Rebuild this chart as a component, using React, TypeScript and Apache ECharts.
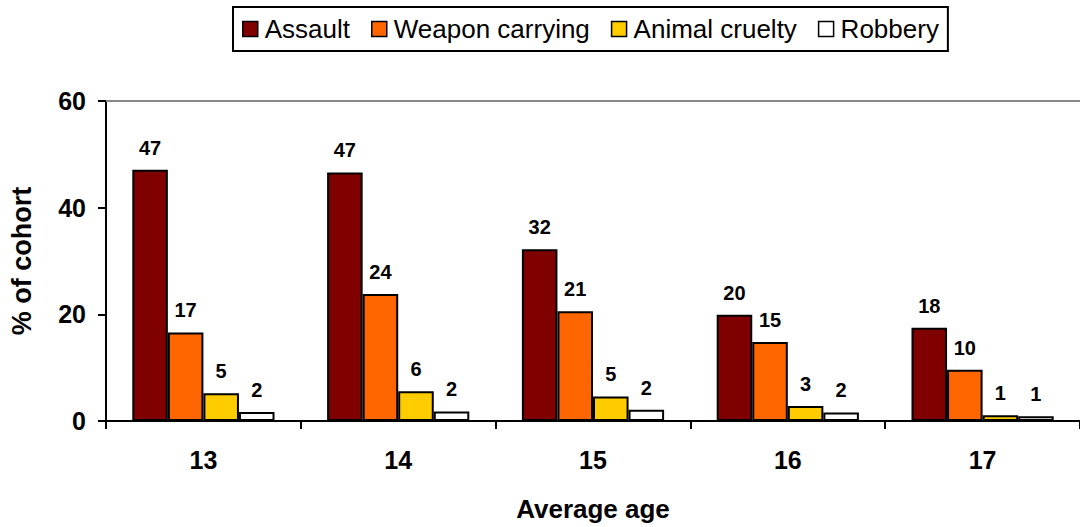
import React, { useEffect, useRef } from "react";
import * as echarts from "echarts";

const categories = ["13", "14", "15", "16", "17"];
const seriesNames = ["Assault", "Weapon carrying", "Animal cruelty", "Robbery"];
const assault = [47.1, 46.6, 32.2, 19.9, 17.5];
const weaponCarrying = [16.6, 23.8, 20.6, 14.8, 9.6];
const animalCruelty = [5.2, 5.6, 4.6, 2.8, 1.1];
const robbery = [1.7, 1.8, 2.1, 1.6, 0.9];
const colors = ["#800000", "#FF6600", "#FFCC00", "#FFFFFF"];
const yTicks = { min: 0, max: 60, interval: 20 };

const FONT = "'Liberation Sans', Arial, Helvetica, sans-serif";

export default function App() {
  const ref = useRef<HTMLDivElement>(null);
  useEffect(() => {
    document.body.style.margin = "0";
    if (!ref.current) return;
    const chart = echarts.init(ref.current, null, { renderer: "svg" });
    const values = [assault, weaponCarrying, animalCruelty, robbery];
    const series = values.map((data, i) => ({
      name: seriesNames[i],
      type: "bar",
      data,
      barGap: "0%",
      barCategoryGap: "27%",
      itemStyle: { color: colors[i], borderColor: "#000", borderWidth: 2 },
      label: {
        show: true,
        position: "top",
        distance: 12,
        color: "#000",
        fontWeight: "bold",
        fontSize: 20,
        fontFamily: FONT,
        formatter: (p: any) => String(Math.round(p.value)),
      },
      ...(i === 0
        ? {
            markLine: {
              silent: true,
              symbol: "none",
              label: { show: false },
              lineStyle: { color: "#888", width: 2, type: "solid" },
              data: [{ yAxis: yTicks.max }],
            },
          }
        : {}),
    }));
    chart.setOption({
      animation: false,
      backgroundColor: "#fff",
      textStyle: { fontFamily: FONT },
      legend: {
        data: seriesNames,
        left: 233,
        top: 7,
        orient: "horizontal",
        itemWidth: 15,
        itemHeight: 15,
        itemGap: 21,
        padding: [9, 9, 9, 9],
        borderColor: "#000",
        borderWidth: 2,
        icon: "rect",
        itemStyle: { borderColor: "#000", borderWidth: 1.5 },
        textStyle: { fontSize: 26, color: "#000", fontFamily: FONT, padding: [0, 0, 0, 2] },
      },
      grid: { left: 101, right: 0, top: 101, bottom: 104, containLabel: false },
      xAxis: {
        type: "category",
        data: categories,
        name: "Average age",
        nameLocation: "middle",
        nameGap: 75,
        nameTextStyle: { fontSize: 26, fontWeight: "bold", color: "#000", fontFamily: FONT },
        axisLine: { lineStyle: { color: "#000", width: 2 } },
        axisTick: { show: true, length: 8, lineStyle: { color: "#000", width: 2 } },
        axisLabel: { fontSize: 25, fontWeight: "bold", color: "#000", margin: 26, fontFamily: FONT },
      },
      yAxis: {
        type: "value",
        min: yTicks.min,
        max: yTicks.max,
        interval: yTicks.interval,
        name: "% of cohort",
        nameLocation: "middle",
        nameGap: 71,
        nameTextStyle: { fontSize: 27, fontWeight: "bold", color: "#000", fontFamily: FONT },
        axisLine: { show: true, lineStyle: { color: "#000", width: 2 } },
        axisTick: { show: true, length: 8, lineStyle: { color: "#000", width: 2 } },
        axisLabel: { fontSize: 25, fontWeight: "bold", color: "#000", margin: 20, fontFamily: FONT },
        splitLine: { show: false },
      },
      series,
    });
    return () => chart.dispose();
  }, []);
  return <div ref={ref} style={{ width: 1080, height: 527 }} />;
}
